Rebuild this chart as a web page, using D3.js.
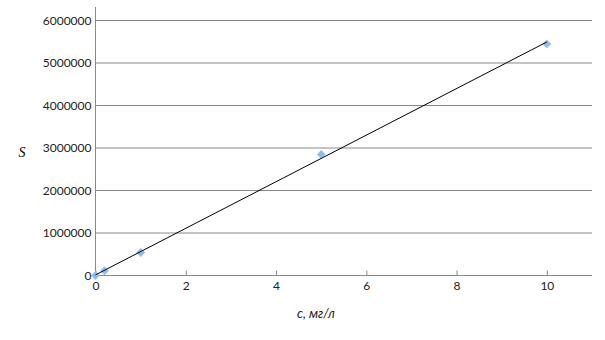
<!DOCTYPE html>
<html>
<head>
<meta charset="utf-8">
<script src="https://cdn.jsdelivr.net/npm/d3@7"></script>
<style>
  body { margin: 0; background: #fff; }
  svg { display: block; }
  .tick text { font-family: Lato, "Open Sans", sans-serif; font-size: 12px; fill: #222; }
</style>
</head>
<body>
<script>
var concentration = [0, 0.2, 1, 5, 10];
var area = [0, 110000, 540000, 2850000, 5450000];
var xTicks = [0, 2, 4, 6, 8, 10];
var yTicks = [0, 1000000, 2000000, 3000000, 4000000, 5000000, 6000000];

var width = 605, height = 340;
var svg = d3.select("body").append("svg")
  .attr("width", width)
  .attr("height", height);

var x = d3.scaleLinear().domain([0, 11]).range([95.5, 592]);
var y = d3.scaleLinear().domain([0, 6000000]).range([275.5, 20.5]);

var grid = "#898989";

// horizontal gridlines
svg.selectAll("line.grid")
  .data(yTicks.slice(1))
  .enter().append("line")
  .attr("class", "grid")
  .attr("x1", x(0)).attr("x2", x(11))
  .attr("y1", function(d) { return y(d); })
  .attr("y2", function(d) { return y(d); })
  .attr("stroke", grid);

// y axis
var yAxis = svg.append("g")
  .attr("transform", "translate(" + x(0) + ",0)")
  .call(d3.axisLeft(y).tickValues(yTicks).tickFormat(d3.format("d")).tickSize(0).tickPadding(4));
yAxis.select(".domain").remove();
svg.append("line")
  .attr("x1", x(0)).attr("x2", x(0))
  .attr("y1", 7).attr("y2", y(0))
  .attr("stroke", grid);

// x axis
var xAxis = svg.append("g")
  .attr("transform", "translate(0," + y(0) + ")")
  .call(d3.axisBottom(x).tickValues(xTicks).tickFormat(d3.format("d")).tickSize(0).tickPadding(6));
xAxis.select(".domain").remove();
xAxis.selectAll(".tick").append("line")
  .attr("y1", -5).attr("y2", 0)
  .attr("stroke", grid);
svg.append("line")
  .attr("x1", x(0) - 3).attr("x2", x(11))
  .attr("y1", y(0)).attr("y2", y(0))
  .attr("stroke", grid);

// points
var pts = concentration.map(function(c, i) { return { c: c, s: area[i] }; });
svg.selectAll("path.pt")
  .data(pts)
  .enter().append("path")
  .attr("class", "pt")
  .attr("d", d3.symbol().type(d3.symbolDiamond2).size(50))
  .attr("transform", function(d) { return "translate(" + x(d.c) + "," + y(d.s) + ")"; })
  .attr("fill", "#8fbdf2");

// linear trend line (least squares)
var mx = d3.mean(concentration), my = d3.mean(area);
var sxy = d3.sum(pts, function(d) { return (d.c - mx) * (d.s - my); });
var sxx = d3.sum(pts, function(d) { return (d.c - mx) * (d.c - mx); });
var slope = sxy / sxx, icpt = my - slope * mx;
var line = d3.line()
  .x(function(d) { return x(d); })
  .y(function(d) { return y(slope * d + icpt); });
svg.append("path")
  .datum([0, 10])
  .attr("d", line)
  .attr("fill", "none")
  .attr("stroke", "#000")
  .attr("stroke-width", 1);

// axis titles
svg.append("text")
  .attr("x", 22).attr("y", 157)
  .attr("text-anchor", "middle")
  .style("font-family", "'Liberation Serif', serif")
  .style("font-style", "italic")
  .style("font-size", "14px")
  .text("S");

svg.append("text")
  .attr("x", 316).attr("y", 318)
  .attr("text-anchor", "middle")
  .style("font-family", "Lato, 'Open Sans', sans-serif")
  .style("font-style", "italic")
  .style("font-size", "13px")
  .attr("fill", "#222")
  .text("c, мг/л");
</script>
</body>
</html>
